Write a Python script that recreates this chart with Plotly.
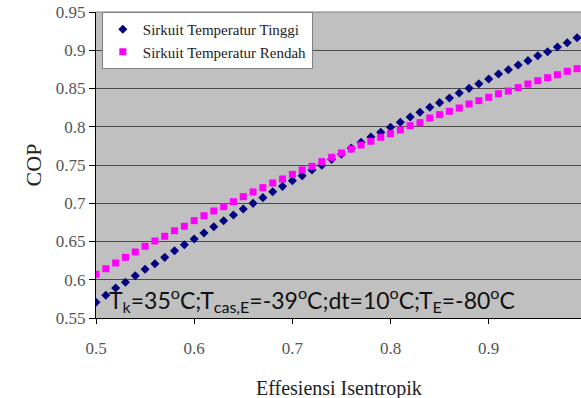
import plotly.graph_objects as go

efisiensi = [0.50, 0.51, 0.52, 0.53, 0.54, 0.55, 0.56, 0.57, 0.58, 0.59,
             0.60, 0.61, 0.62, 0.63, 0.64, 0.65, 0.66, 0.67, 0.68, 0.69,
             0.70, 0.71, 0.72, 0.73, 0.74, 0.75, 0.76, 0.77, 0.78, 0.79,
             0.80, 0.81, 0.82, 0.83, 0.84, 0.85, 0.86, 0.87, 0.88, 0.89,
             0.90, 0.91, 0.92, 0.93, 0.94, 0.95, 0.96, 0.97, 0.98, 0.99]

cop_tinggi = [0.5705, 0.5797, 0.5892, 0.5967, 0.6053, 0.6137, 0.6210, 0.6293, 0.6380, 0.6458,
              0.6533, 0.6611, 0.6693, 0.6772, 0.6846, 0.6925, 0.6999, 0.7073, 0.7151, 0.7221,
              0.7295, 0.7360, 0.7435, 0.7496, 0.7574, 0.7640, 0.7720, 0.7797, 0.7866, 0.7927,
              0.7993, 0.8058, 0.8127, 0.8189, 0.8254, 0.8315, 0.8376, 0.8441, 0.8502, 0.8563,
              0.8624, 0.8690, 0.8746, 0.8807, 0.8864, 0.8929, 0.8981, 0.9042, 0.9099, 0.9164]

cop_rendah = [0.6071, 0.6144, 0.6219, 0.6293, 0.6363, 0.6437, 0.6507, 0.6568, 0.6641, 0.6699,
              0.6772, 0.6837, 0.6899, 0.6955, 0.7020, 0.7086, 0.7147, 0.7204, 0.7265, 0.7317,
              0.7378, 0.7435, 0.7482, 0.7544, 0.7601, 0.7657, 0.7709, 0.7761, 0.7810, 0.7862,
              0.7909, 0.7958, 0.8014, 0.8053, 0.8114, 0.8158, 0.8202, 0.8245, 0.8297, 0.8341,
              0.8385, 0.8432, 0.8467, 0.8511, 0.8559, 0.8602, 0.8641, 0.8680, 0.8725, 0.8759]

x_ticks = [0.5, 0.6, 0.7, 0.8, 0.9]
y_ticks = [0.55, 0.6, 0.65, 0.7, 0.75, 0.8, 0.85, 0.9, 0.95]

serif = "'Liberation Serif', 'Times New Roman', Times, serif"

fig = go.Figure()
fig.add_trace(go.Scatter(x=efisiensi, y=cop_tinggi, mode="markers",
                         name="Sirkuit Temperatur Tinggi",
                         marker=dict(symbol="diamond", size=7, color="#000080")))
fig.add_trace(go.Scatter(x=efisiensi, y=cop_rendah, mode="markers",
                         name="Sirkuit Temperatur Rendah",
                         marker=dict(symbol="square", size=7, color="#FF00FF")))

fig.update_layout(
    width=581, height=398,
    margin=dict(l=96, r=0, t=12, b=80),
    paper_bgcolor="white",
    plot_bgcolor="#C0C0C0",
    showlegend=True,
    legend=dict(x=0.012, y=1.0, xanchor="left", yanchor="top",
                bgcolor="white", bordercolor="#808080", borderwidth=1,
                font=dict(family=serif, size=15, color="#222"),
                tracegroupgap=0, itemwidth=30),
    xaxis=dict(range=[0.5, 0.994], tickvals=x_ticks, ticktext=["0.5", "0.6", "0.7", "0.8", "0.9"],
               showgrid=False, zeroline=False, showline=True, linecolor="#000", linewidth=1,
               ticks="outside", ticklen=5, tickcolor="#000", ticklabelstandoff=10,
               tickfont=dict(family=serif, size=17, color="#555")),
    yaxis=dict(range=[0.55, 0.95], tickvals=y_ticks,
               ticktext=["0.55", "0.6", "0.65", "0.7", "0.75", "0.8", "0.85", "0.9", "0.95"],
               showgrid=True, gridcolor="#4a4a4a", gridwidth=1, zeroline=False,
               showline=True, linecolor="#000", linewidth=1,
               ticks="outside", ticklen=6, tickcolor="#000",
               tickfont=dict(family=serif, size=17, color="#555"),
               title=dict(text="COP", font=dict(family=serif, size=22, color="#222"), standoff=8)),
    annotations=[
        dict(text="T<sub>k</sub>=35<sup>o</sup>C;T<sub>cas,E</sub>=-39<sup>o</sup>C;dt=10<sup>o</sup>C;T<sub>E</sub>=-80<sup>o</sup>C",
             x=0.023, y=0.0, xref="paper", yref="paper", xanchor="left", yanchor="bottom",
             showarrow=False, font=dict(family="Lato", size=23, color="#111")),
        dict(text="Effesiensi Isentropik", x=0.5, y=-0.232, xref="paper", yref="paper",
             xanchor="center", yanchor="middle", showarrow=False,
             font=dict(family=serif, size=20, color="#222")),
    ],
    shapes=[dict(type="line", xref="paper", yref="paper", x0=0, x1=1, y0=1, y1=1,
                 line=dict(color="#808080", width=1))],
)

fig.write_html("out.html")
